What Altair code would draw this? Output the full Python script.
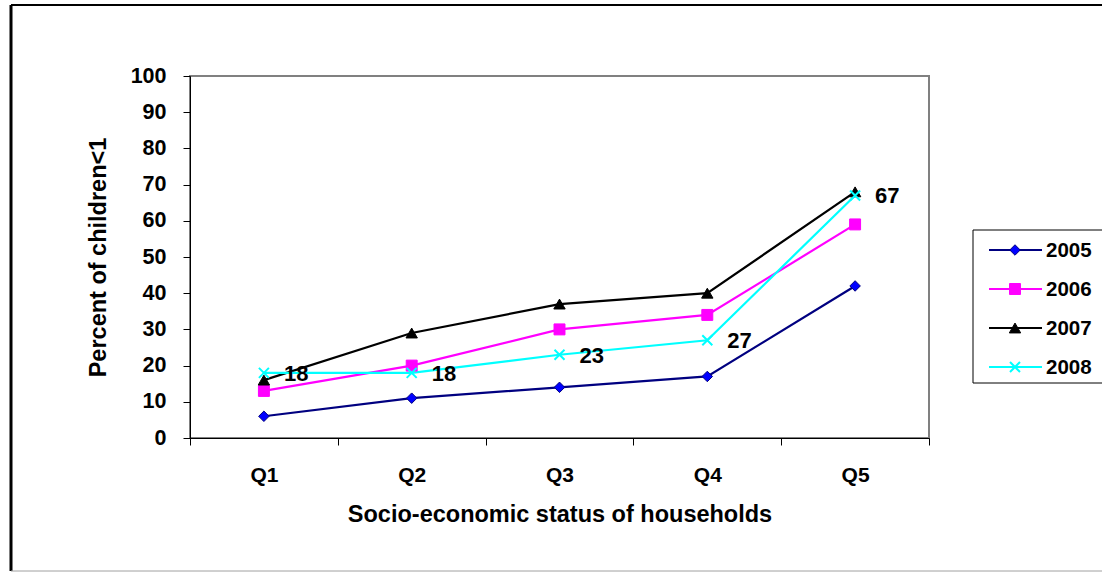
import altair as alt
import pandas as pd

quintiles = ["Q1", "Q2", "Q3", "Q4", "Q5"]
years = ["2005", "2006", "2007", "2008"]
v2005 = [6, 11, 14, 17, 42]
v2006 = [13, 20, 30, 34, 59]
v2007 = [16, 29, 37, 40, 68]
v2008 = [18, 18, 23, 27, 67]
label_series = "2008"

series = {"2005": v2005, "2006": v2006, "2007": v2007, "2008": v2008}
rows = []
for yr in years:
    for q, v in zip(quintiles, series[yr]):
        rows.append({"q": q, "year": yr, "value": v})
df = pd.DataFrame(rows)

FONT = "Liberation Sans"
W, H = 739, 362
LEFT, TOP = 190, 76

line_colors = {"2005": "#000080", "2006": "#FF00FF", "2007": "#000000", "2008": "#00FFFF"}
fill_colors = {"2005": "#0000FF", "2006": "#FF00FF", "2007": "#000000", "2008": None}
shapes = {"2005": "diamond", "2006": "square", "2007": "triangle-up",
          "2008": "M-1,-1L1,1M-1,1L1,-1"}
sizes = {"2005": 110, "2006": 120, "2007": 130, "2008": 100}

x_enc = alt.X("q:N", scale=alt.Scale(type="band", domain=quintiles, paddingInner=0, paddingOuter=0),
              axis=alt.Axis(title="Socio-economic status of households", labelAngle=0,
                            tickBand="extent", tickSize=7, tickColor="#000000",
                            domainColor="#000000", labelFontSize=21, labelFont=FONT,
                            labelFontWeight="bold", labelColor="#000000", labelPadding=19,
                            titleFont=FONT, titleFontSize=23.5, titleFontWeight="bold",
                            titleColor="#000000", titlePadding=17, grid=False))
y_enc = alt.Y("value:Q", scale=alt.Scale(domain=[0, 100], nice=False),
              axis=alt.Axis(title="Percent of children<1", values=list(range(0, 101, 10)),
                            tickSize=7, tickColor="#000000", domainColor="#000000",
                            labelFontSize=21.5, labelFont=FONT, labelFontWeight="bold",
                            labelColor="#000000", labelPadding=17, titleFont=FONT,
                            titleFontSize=23.5, titleFontWeight="bold", titleColor="#000000",
                            titlePadding=20, grid=False))

layers = []
for yr in years:
    d = df[df.year == yr]
    layers.append(alt.Chart(d).mark_line(color=line_colors[yr], strokeWidth=2.2).encode(x=x_enc, y=y_enc))
for yr in years:
    d = df[df.year == yr]
    if fill_colors[yr] is None:
        pt = alt.Chart(d).mark_point(shape=shapes[yr], filled=False, stroke=line_colors[yr],
                                     strokeWidth=2, size=sizes[yr], opacity=1)
    else:
        pt = alt.Chart(d).mark_point(shape=shapes[yr], filled=True, fill=fill_colors[yr],
                                     stroke=line_colors[yr], strokeWidth=1, size=sizes[yr], opacity=1)
    layers.append(pt.encode(x=x_enc, y=y_enc))

lab = alt.Chart(df[df.year == label_series]).mark_text(
    align="left", baseline="middle", dx=20, dy=1, font=FONT, fontSize=22, fontWeight="bold", color="#000000"
).encode(x=x_enc, y=y_enc, text="value:Q")
layers.append(lab)

# outer chart frame
layers.append(alt.Chart(pd.DataFrame({"a": [0]})).mark_rule(color="#000000", strokeWidth=2).encode(
    x=alt.value(11 - LEFT), x2=alt.value(1110 - LEFT), y=alt.value(5 - TOP)))
layers.append(alt.Chart(pd.DataFrame({"a": [0]})).mark_rule(color="#000000", strokeWidth=3).encode(
    x=alt.value(11 - LEFT), y=alt.value(5 - TOP), y2=alt.value(571 - TOP)))
layers.append(alt.Chart(pd.DataFrame({"a": [0]})).mark_rule(color="#A0A0A0", strokeWidth=1).encode(
    x=alt.value(11 - LEFT), x2=alt.value(1110 - LEFT), y=alt.value(571 - TOP)))

# legend box
layers.append(alt.Chart(pd.DataFrame({"a": [0]})).mark_rect(fill="white", stroke="#000000", strokeWidth=1).encode(
    x=alt.value(973 - LEFT), x2=alt.value(1120 - LEFT), y=alt.value(230 - TOP), y2=alt.value(383 - TOP)))
leg_y = [250, 289, 328, 367]
for yr, yy in zip(years, leg_y):
    one = pd.DataFrame({"year": [yr]})
    layers.append(alt.Chart(one).mark_rule(color=line_colors[yr], strokeWidth=2.2).encode(
        x=alt.value(989 - LEFT), x2=alt.value(1042 - LEFT), y=alt.value(yy - TOP)))
    if fill_colors[yr] is None:
        m = alt.Chart(one).mark_point(shape=shapes[yr], filled=False, stroke=line_colors[yr],
                                      strokeWidth=2, size=sizes[yr], opacity=1)
    else:
        m = alt.Chart(one).mark_point(shape=shapes[yr], filled=True, fill=fill_colors[yr],
                                      stroke=line_colors[yr], strokeWidth=1, size=sizes[yr], opacity=1)
    layers.append(m.encode(x=alt.value(1015 - LEFT), y=alt.value(yy - TOP)))
    layers.append(alt.Chart(one).mark_text(align="left", baseline="middle", font=FONT, fontSize=20.5,
                                           fontWeight="bold", color="#000000").encode(
        x=alt.value(1046 - LEFT), y=alt.value(yy + 1 - TOP), text="year:N"))

chart = alt.layer(*layers).properties(
    width=W, height=H,
    autosize=alt.AutoSizeParams(type="none"),
    padding={"left": LEFT, "top": TOP, "right": 1102 - LEFT - W, "bottom": 572 - TOP - H},
    background="white",
).configure_view(stroke="#808080", strokeWidth=2)

chart.save("out.html", embed_options={"renderer": "svg", "actions": False})
